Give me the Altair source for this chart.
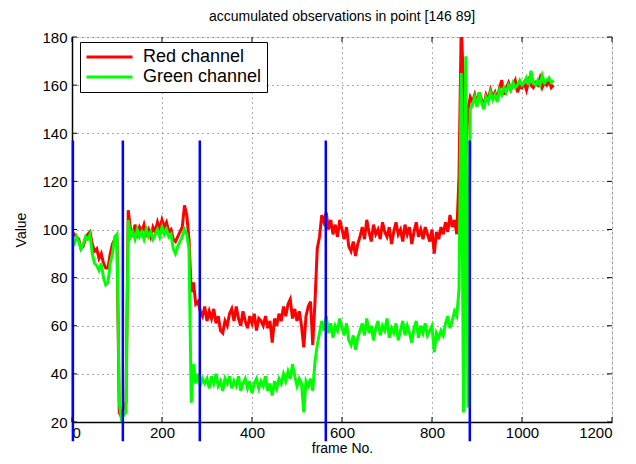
import altair as alt
import pandas as pd

title_text = "accumulated observations in point [146 89]"
series_names = ["Red channel", "Green channel"]
series_colors = ["#ff0000", "#00ff00"]
change_color = "#0000ff"
frame_step = 5

red = [
    97, 98, 97, 96, 92, 93, 96, 98, 99, 94,          # 0-45
    91, 92, 88, 90, 86, 84, 84, 90, 94, 96,          # 50-95
    96, 24, 22, 26, 28, 108, 100, 97, 102, 98,       # 100-145
    101, 99, 102, 98, 100, 97, 101, 99, 103, 100,    # 150-195
    104, 101, 103, 99, 100, 96, 95, 97, 99, 101,     # 200-245
    110, 106, 96, 74, 78, 69, 70, 66, 64, 68,        # 250-295
    62, 66, 63, 67, 61, 64, 58, 57, 62, 60,          # 300-345
    65, 67, 62, 68, 63, 60, 66, 62, 59, 64,          # 350-395
    61, 65, 58, 63, 62, 60, 64, 59, 62, 53,          # 400-445
    63, 60, 65, 62, 68, 64, 69, 71, 63, 67,          # 450-495
    62, 66, 60, 51, 64, 68, 70, 52, 70, 92,          # 500-545
    97, 106, 103, 107, 100, 104, 98, 102, 97, 104,   # 550-595
    100, 96, 101, 93, 91, 95, 89, 94, 97, 101,       # 600-645
    96, 104, 99, 95, 102, 98, 100, 96, 103, 99,      # 650-695
    97, 101, 94, 99, 103, 98, 100, 95, 102, 98,      # 700-745
    101, 94, 99, 103, 97, 100, 96, 101, 98, 95,      # 750-795
    100, 90, 99, 96, 101, 98, 103, 99, 106, 101,     # 800-845
    104, 98, 122, 185, 160, 130, 150, 155, 153, 156, # 850-895
    152, 157, 154, 151, 156, 154, 158, 155, 157, 154,  # 900-945
    159, 162, 156, 159, 161, 158, 160, 162, 157, 160,  # 950-995
    159, 161, 158, 162, 160, 159, 161, 160, 163, 159,  # 1000-1045
    161, 160, 162, 159, 160,                           # 1050-1070
]

green = [
    95, 94, 97, 95, 92, 94, 97, 96, 98, 90,          # 0-45
    86, 85, 83, 86, 80, 77, 78, 86, 90, 97,          # 50-95
    98, 28, 21, 23, 24, 104, 97, 99, 96, 100,        # 100-145
    97, 99, 96, 100, 97, 99, 96, 98, 100, 97,        # 150-195
    101, 98, 100, 97, 98, 92, 90, 93, 95, 97,        # 200-245
    100, 98, 92, 28, 44, 36, 40, 35, 38, 36,         # 250-295
    38, 34, 39, 36, 40, 35, 37, 33, 38, 36,          # 300-345
    39, 34, 37, 35, 39, 33, 36, 38, 34, 37,          # 350-395
    32, 36, 38, 34, 37, 35, 39, 33, 36, 31,          # 400-445
    37, 34, 38, 36, 40, 37, 41, 38, 44, 39,          # 450-495
    35, 38, 36, 24, 37, 35, 38, 33, 45, 52,          # 500-545
    57, 62, 58, 64, 57, 61, 55, 60, 58, 63,          # 550-595
    59, 56, 61, 54, 52, 56, 50, 55, 58, 61,          # 600-645
    56, 63, 57, 60, 54, 59, 62, 56, 60, 58,          # 650-695
    63, 55, 59, 57, 61, 54, 58, 62, 56, 60,          # 700-745
    57, 53, 59, 62, 55, 60, 57, 61, 56, 58,          # 750-795
    60, 49, 57, 55, 58, 56, 61, 64, 59, 62,          # 800-845
    66, 64, 75, 165, 24, 172, 26, 150, 152, 155,     # 850-895
    151, 157, 153, 150, 155, 153, 157, 154, 156, 153,  # 900-945
    158, 156, 159, 157, 160, 158, 161, 159, 160, 162,  # 950-995
    160, 161, 163, 160, 166, 161, 160, 162, 160, 164,  # 1000-1045
    161, 162, 163, 161, 162,                           # 1050-1070
]

change_frames = [2, 113, 284, 564, 884]
change_top = 137
change_bottom = 12

x_ticks = [0, 200, 400, 600, 800, 1000, 1200]
y_ticks = [20, 40, 60, 80, 100, 120, 140, 160, 180]

W, H = 540, 385
FONT = "Liberation Sans"

frames = [i * frame_step for i in range(len(red))]
df_red = pd.DataFrame({"frame": frames, "value": red, "series": series_names[0]})
df_green = pd.DataFrame({"frame": frames[:len(green)], "value": green, "series": series_names[1]})
df_change = pd.DataFrame({"frame": change_frames,
                          "value": [change_bottom] * len(change_frames),
                          "value2": [change_top] * len(change_frames)})
df_xt = pd.DataFrame({"frame": x_ticks})
df_yt = pd.DataFrame({"value": y_ticks})

xs = alt.Scale(domain=[0, 1200], nice=False, zero=False)
ys = alt.Scale(domain=[20, 180], nice=False, zero=False)
x_axis = alt.Axis(values=x_ticks, title="frame No.", grid=True, gridDash=[1, 4],
                  gridColor="#333", gridOpacity=0.8, tickSize=0, labelPadding=3,
                  titlePadding=1, labelFontSize=15, titleFontSize=14,
                  labelFont=FONT, titleFont=FONT, titleFontWeight="normal",
                  labelColor="black", titleColor="black", domainColor="black",
                  domainWidth=1.5, format="d")
y_axis = alt.Axis(values=y_ticks, title="Value", grid=True, gridDash=[1, 4],
                  gridColor="#333", gridOpacity=0.8, tickSize=0, labelPadding=5,
                  titlePadding=13, labelFontSize=15, titleFontSize=14,
                  labelFont=FONT, titleFont=FONT, titleFontWeight="normal",
                  labelColor="black", titleColor="black", domainColor="black",
                  domainWidth=1.5, format="d")

X = alt.X("frame:Q", scale=xs, axis=x_axis)
Y = alt.Y("value:Q", scale=ys, axis=y_axis)
color = alt.Color("series:N",
                  scale=alt.Scale(domain=series_names, range=series_colors),
                  legend=alt.Legend(title=None, orient="none", legendX=8, legendY=5,
                                    symbolType="stroke", symbolSize=2116,
                                    symbolStrokeWidth=3, labelFontSize=18,
                                    labelFont=FONT, labelColor="black",
                                    strokeColor="black", fillColor="white",
                                    padding=5, rowPadding=0, labelOffset=9,
                                    clipHeight=20))

red_line = alt.Chart(df_red).mark_line(strokeWidth=3, clip=True).encode(x=X, y=Y, color=color)
green_line = alt.Chart(df_green).mark_line(strokeWidth=3, clip=True).encode(x=X, y=Y, color=color)
changes = alt.Chart(df_change).mark_rule(color=change_color, strokeWidth=2.5, clip=False).encode(
    x=X, y=Y, y2="value2:Q")

tick_style = dict(color="black", strokeWidth=1)
xt_bottom = alt.Chart(df_xt).mark_rule(**tick_style).encode(x=X, y=alt.value(H), y2=alt.value(H - 5))
xt_top = alt.Chart(df_xt).mark_rule(**tick_style).encode(x=X, y=alt.value(0), y2=alt.value(5))
yt_left = alt.Chart(df_yt).mark_rule(**tick_style).encode(y=Y, x=alt.value(0), x2=alt.value(5))
yt_right = alt.Chart(df_yt).mark_rule(**tick_style).encode(y=Y, x=alt.value(W - 5), x2=alt.value(W))

chart = alt.layer(
    red_line, green_line, changes, xt_bottom, xt_top, yt_left, yt_right
).properties(
    width=W, height=H,
    title=alt.TitleParams(title_text, fontSize=14, fontWeight="normal", font=FONT,
                          anchor="middle", offset=6, color="black"),
    autosize=alt.AutoSizeParams(type="none"),
    padding={"left": 64, "top": 29, "right": 16, "bottom": 34},
).configure_view(stroke="black", strokeWidth=1).configure(background="white")

chart.save("out.html", embed_options={"renderer": "svg", "actions": False})
